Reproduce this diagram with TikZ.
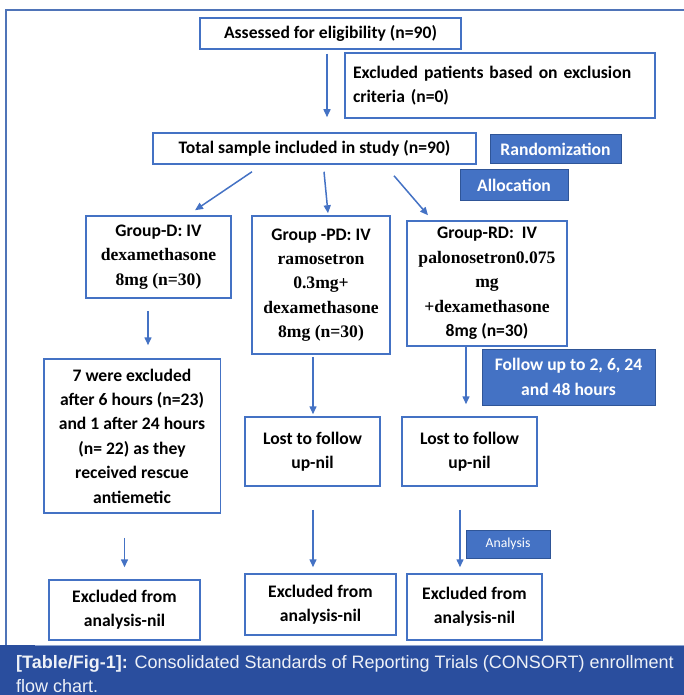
\documentclass[tikz,border=0pt]{standalone}
\usepackage{fontspec}
\setmainfont{Liberation Serif}
\newfontfamily\calibri{Carlito}
\newfontfamily\capsans{Liberation Sans}
\usetikzlibrary{arrows.meta}
\definecolor{boxblue}{HTML}{4472C4}
\definecolor{tagedge}{HTML}{2F5597}
\definecolor{framblue}{HTML}{4F74B8}
\definecolor{capblue}{HTML}{2A4E9E}
\definecolor{capline}{HTML}{8FA5D0}
\begin{document}
\begin{tikzpicture}[x=1pt,y=-1pt,
    box/.style={draw=boxblue,line width=1.5pt,fill=white,align=center,inner sep=2pt,
        font=\fontsize{17.6}{24.4}\selectfont\bfseries},
    sansbox/.style={box,font=\fontsize{17.6}{24.4}\selectfont\calibri\bfseries},
    tagbox/.style={draw=tagedge,line width=1pt,fill=boxblue,text=white,align=center,
        font=\fontsize{17.6}{24.4}\selectfont\calibri\bfseries},
    arr/.style={draw=boxblue,line width=1.5pt,-{Triangle[width=7pt,length=8pt]}}]
    \useasboundingbox (0,0) rectangle (684,695);

    \draw[framblue,line width=2pt] (6,645) -- (6,10) -- (684,10);

    \node (assess) [sansbox,minimum width=261pt,minimum height=31pt] at (330.5,33.5) {Assessed for eligibility (n=90)};
    \node (excl) [sansbox,minimum width=310pt,minimum height=65pt,text width=294pt,align=left] at (500,85.5)
        {Excluded patients based on exclusion\\criteria (n=0)};
    \node (total) [sansbox,minimum width=323pt,minimum height=31pt] at (314.5,148.5) {Total sample included in study (n=90)};
    \node (rand) [tagbox,minimum width=131pt,minimum height=29pt] at (555.5,149.5) {Randomization};
    \node (alloc) [tagbox,minimum width=108pt,minimum height=31pt] at (514,185) {Allocation};

    \node (gD) [box,minimum width=145pt,minimum height=82pt] at (158.5,257)
        {{\calibri Group-D: IV}\\dexamethasone\\8mg (n=30)};
    \node (gPD) [box,minimum width=138pt,minimum height=138pt] at (321,285)
        {{\calibri Group -PD: IV}\\ramosetron\\0.3mg+\\dexamethasone\\8mg (n=30)};
    \node (gRD) [box,minimum width=160pt,minimum height=125pt] at (487,283.5)
        {{\calibri Group-RD:\ \ IV}\\palonosetron0.075\\mg\\+dexamethasone\\{\calibri 8mg (n=30)}};
    \node (follow) [tagbox,minimum width=173pt,minimum height=56pt] at (568.5,377)
        {Follow up to 2, 6, 24\\and 48 hours};

    \node (exD) [sansbox,minimum width=176.5pt,minimum height=154pt] at (132,436)
        {7 were excluded\\after 6 hours (n=23)\\and 1 after 24 hours\\(n= 22) as they\\received rescue\\antiemetic};
    \node (lostPD) [sansbox,minimum width=135pt,minimum height=69pt] at (312.5,451.5) {Lost to follow\\up-nil};
    \node (lostRD) [sansbox,minimum width=135pt,minimum height=69pt] at (469.5,451.5) {Lost to follow\\up-nil};
    \node (analysis) [tagbox,minimum width=84pt,minimum height=28pt,
        font=\fontsize{13.7}{16}\selectfont\calibri] at (508,544) {Analysis};

    \node (xD) [sansbox,minimum width=151pt,minimum height=60pt] at (124.5,610) {Excluded from\\analysis-nil};
    \node (xPD) [sansbox,minimum width=151pt,minimum height=61pt] at (320.5,604.5) {Excluded from\\analysis-nil};
    \node (xRD) [sansbox,minimum width=135pt,minimum height=66pt] at (474.5,607) {Excluded from\\analysis-nil};

    \draw[arr,shorten <=4pt,shorten >=15pt] (assess.south -| 327,0) -- (total.north -| 327,0);
    \draw[arr] ([xshift=-62.5pt,yshift=-7pt]total.south) -- ([xshift=36.5pt,yshift=5pt]gD.north);
    \draw[arr] ([xshift=9.5pt,yshift=-7pt]total.south) -- ([xshift=7pt,yshift=2pt]gPD.north);
    \draw[arr] ([xshift=79.5pt,yshift=-11pt]total.south) -- ([xshift=-59pt,yshift=5pt]gRD.north);
    \draw[arr,shorten <=12pt,shorten >=13pt] (gD.south -| 148,0) -- (exD.north -| 148,0);
    \draw[arr,shorten <=2pt,shorten >=2pt] (gPD.south -| 313,0) -- (lostPD.north -| 313,0);
    \draw[arr,shorten >=12pt] (gRD.south -| 466,0) -- (lostRD.north -| 466,0);
    \draw[arr,shorten <=24pt,shorten >=12pt] (exD.south -| 124.5,0) -- (xD.north -| 124.5,0);
    \draw[arr,shorten <=23pt,shorten >=6pt] (lostPD.south -| 313,0) -- (xPD.north -| 313,0);
    \draw[arr,shorten <=23pt,shorten >=6pt] (lostRD.south -| 460,0) -- (xRD.north -| 460,0);

    \fill[capblue] (0,645) rectangle (684,695);
    \draw[capline,line width=1.5pt] (35,645.5) -- (684,645.5);
    \node (caption) [anchor=north west,inner sep=0pt,align=left,text=white!92!capblue,
        font=\fontsize{18}{24}\selectfont\capsans] at (16,655)
        {{\bfseries [Table/Fig-1]:} Consolidated Standards of Reporting Trials (CONSORT) enrollment\\flow chart.};
\end{tikzpicture}
\end{document}
